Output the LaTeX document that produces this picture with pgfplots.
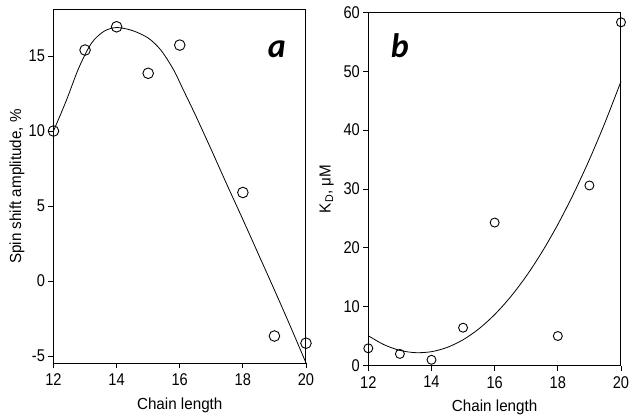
\documentclass[border=0pt]{standalone}
\usepackage{fontspec}
\setmainfont{Liberation Sans}
\newfontfamily\labfont{Carlito}
\newfontfamily\tickfont[FakeStretch=0.86]{Liberation Sans}
\newfontfamily\axlabfont[FakeStretch=0.95]{Liberation Sans}
\usepackage{pgfplots}
\pgfplotsset{compat=1.18}
\begin{document}
\begin{tikzpicture}
\useasboundingbox (0,0) rectangle (635bp,418bp);
\pgfplotsset{
  myax/.style={
    scale only axis, width=252.5bp, height=353bp,
    anchor=south west,
    axis line style={line width=1bp},
    tick pos=left, tick align=outside, major tick length=5bp,
    tick style={line width=0.9bp, black},
    /pgf/number format/assume math mode=true,
    tick label style={font=\tickfont\fontsize{17bp}{19bp}\selectfont},
    xticklabel style={yshift=-2bp},
    label style={font=\axlabfont\fontsize{16bp}{18bp}\selectfont},
    xmin=12, xmax=20, xtick={12,14,16,18,20},
    clip=false,
  }
}
\begin{axis}[myax, at={(53.5bp,55bp)},
  ymin=-5.47, ymax=18.07, ytick={-5,0,5,10,15},
  xlabel={Chain length}, ylabel={Spin shift amplitude, \%},
  xlabel style={at={(axis description cs:0.5,-0.119)}, anchor=center},
  ylabel style={at={(axis description cs:-0.1446,0.5)}, anchor=center, rotate=0},
]
\addplot[black, line width=0.8bp, smooth, tension=0.5] coordinates {
(12,10.0) (12.4,12.0) (12.8,14.2) (13.2,15.85) (13.6,16.65) (14.0,16.9) (14.5,16.7)
(15.0,16.2) (15.4,15.4) (15.8,14.1) (16.1,12.8) (16.5,11.05) (17,8.75) (17.5,6.4)
(18,4.1) (18.5,1.75) (19,-0.6) (19.5,-3.0) (20,-5.47)};
\addplot[only marks, mark=o, mark size=5.3bp, mark options={line width=0.9bp, black}] coordinates {
(12,10.0) (13,15.4) (14,16.95) (15,13.85) (16,15.73) (18,5.9) (19,-3.67) (20,-4.15)};
\node[font=\labfont\bfseries\itshape\fontsize{34bp}{36bp}\selectfont] at (rel axis cs:0.885,0.89) {a};
\end{axis}
\begin{axis}[myax, at={(368.3bp,52.3bp)}, width=252.7bp, height=353.4bp,
  ymin=0, ymax=60, ytick={0,10,20,30,40,50,60},
  xlabel={Chain length}, ylabel={K\textsubscript{D}, μM},
  xlabel style={at={(axis description cs:0.5,-0.117)}, anchor=center},
  ylabel style={at={(axis description cs:-0.165,0.5)}, anchor=center, rotate=0},
]
\addplot[black, line width=0.8bp, smooth] coordinates {
(12,5.08) (12.5,3.56) (13,2.6) (13.5,2.21) (14,2.38) (14.5,3.11) (15,4.4)
(15.5,6.26) (16,8.68) (16.5,11.66) (17,15.2) (17.5,19.31) (18,23.98)
(18.5,29.21) (19,35.0) (19.5,41.36) (20,48.28)};
\addplot[only marks, mark=o, mark size=4.5bp, mark options={line width=0.9bp, black}] coordinates {
(12,2.95) (13,2.0) (14,1.0) (15,6.45) (16,24.3) (18,5.04) (19,30.6) (20,58.3)};
\node[font=\labfont\bfseries\itshape\fontsize{34bp}{36bp}\selectfont] at (rel axis cs:0.125,0.905) {b};
\end{axis}
\end{tikzpicture}
\end{document}
